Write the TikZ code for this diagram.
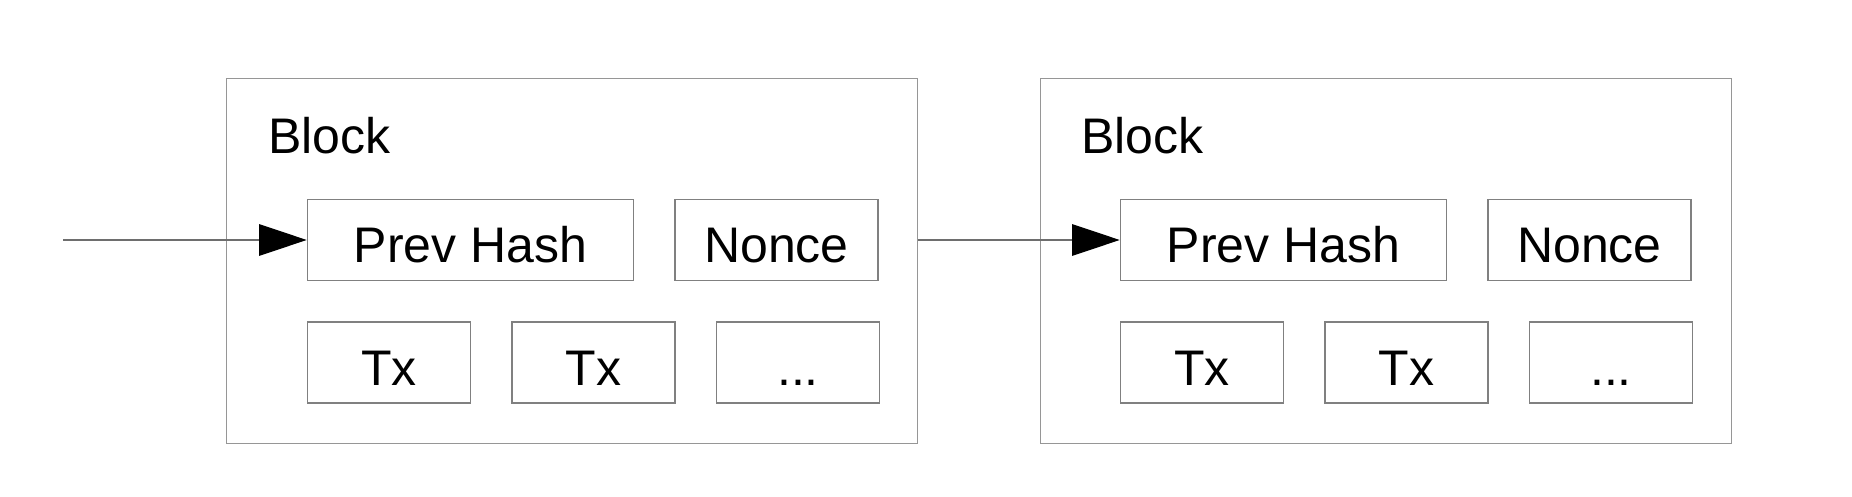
\documentclass[tikz,border=0pt]{standalone}
\usepackage{fontspec}
\setmainfont{Liberation Sans}
\usepackage{tikz}
\usetikzlibrary{arrows.meta, positioning}
\definecolor{fieldgray}{RGB}{128,128,128}
\definecolor{framegray}{RGB}{150,150,150}
\definecolor{linegray}{RGB}{110,110,110}

\begin{document}
\begin{tikzpicture}[
    node distance=0.8cm,
    blockframe/.style={rectangle, draw=framegray, line width=0.6pt, minimum width=13.82cm, minimum height=7.3cm, inner sep=0pt},
    title/.style={inner sep=0pt, anchor=base west, font=\fontsize{28.45}{34}\selectfont},
    field/.style={rectangle, draw=fieldgray, line width=0.85pt, minimum height=1.62cm, inner sep=0pt, text height=0.908cm, text depth=0pt, font=\fontsize{28.45}{34}\selectfont},
    arrow/.style={-{Triangle[length=0.95cm, width=0.63cm, color=black, fill=black]}, line width=0.6pt, color=linegray}
]
    \useasboundingbox (0,0) rectangle (37.04,-9.94);

    % first block
    \node[blockframe, anchor=north west] (block1) at (4.514,-1.554) {};
    \node[title] (label1) at (5.36,-3.066) {Block};
    \node[field, minimum width=6.52cm, anchor=west] (prev1) at (6.134,-4.8) {Prev Hash};
    \node[field, minimum width=4.06cm, right=0.8cm of prev1] (nonce1) {Nonce};
    \node[field, minimum width=3.26cm, below=0.8cm of prev1.south west, anchor=north west] (txa1) {Tx};
    \node[field, minimum width=3.26cm, right=0.8cm of txa1] (txb1) {Tx};
    \node[field, minimum width=3.26cm, right=0.8cm of txb1] (more1) {...};

    % second block
    \node[blockframe, right=2.44cm of block1] (block2) {};
    \node[title] (label2) at (21.62,-3.066) {Block};
    \node[field, minimum width=6.52cm, anchor=west] (prev2) at (22.394,-4.8) {Prev Hash};
    \node[field, minimum width=4.06cm, right=0.8cm of prev2] (nonce2) {Nonce};
    \node[field, minimum width=3.26cm, below=0.8cm of prev2.south west, anchor=north west] (txa2) {Tx};
    \node[field, minimum width=3.26cm, right=0.8cm of txa2] (txb2) {Tx};
    \node[field, minimum width=3.26cm, right=0.8cm of txb2] (more2) {...};

    \coordinate (entry) at (1.26,-4.8);
    \draw[arrow] (entry) -- (prev1.west);
    \draw[arrow] (block1.east |- prev2.west) -- (prev2.west);
\end{tikzpicture}
\end{document}
